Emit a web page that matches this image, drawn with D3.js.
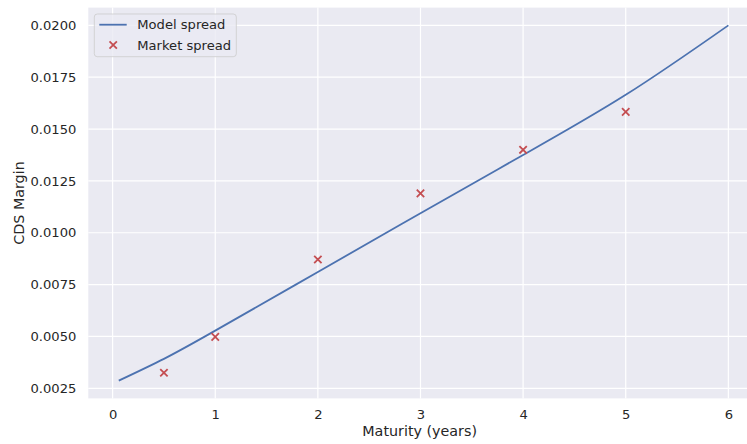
<!DOCTYPE html>
<html>
<head>
<meta charset="utf-8">
<script src="https://cdn.jsdelivr.net/npm/d3@7"></script>
<style>
  html, body { margin: 0; padding: 0; background: #ffffff; }
  svg { display: block; font-family: "DejaVu Sans", sans-serif; }
</style>
</head>
<body>
<svg id="chart" width="747" height="444"></svg>
<script>
// Model CDS spread curve (maturity in years, spread)
const modelMaturity = [0.06, 0.5, 1, 2, 3, 4, 5, 6];
const modelSpread   = [0.00287, 0.00392, 0.00528, 0.00811, 0.01094, 0.01375, 0.01665, 0.0200];

// Observed market spreads
const marketMaturity = [0.5, 1, 2, 3, 4, 5];
const marketSpread   = [0.00325, 0.00498, 0.00871, 0.0119, 0.0140, 0.01583];

// Axis ticks
const xTicks = [0, 1, 2, 3, 4, 5, 6];
const yTicks = [0.0025, 0.0050, 0.0075, 0.0100, 0.0125, 0.0150, 0.0175, 0.0200];

const W = 747, H = 444;
const plot = { left: 88.3, top: 7.6, bottom: 398.4 };

// x domain padded 5% on each side of the data extent
const xMin = d3.min(modelMaturity), xMax = d3.max(modelMaturity);
const xPad = (xMax - xMin) * 0.05;
const yMin = d3.min([...modelSpread, ...marketSpread]), yMax = d3.max([...modelSpread, ...marketSpread]);
const yPad = (yMax - yMin) * 0.05;

const pxPerYear = 102.62;
const x = d3.scaleLinear()
  .domain([xMin - xPad, xMax + xPad])
  .range([plot.left, plot.left + (xMax - xMin + 2 * xPad) * pxPerYear]);
const y = d3.scaleLinear()
  .domain([yMin - yPad, yMax + yPad])
  .range([plot.bottom, plot.top]);

const svg = d3.select("#chart");
const textColor = "#262626";

svg.append("rect")
  .attr("x", plot.left).attr("y", plot.top)
  .attr("width", x.range()[1] - plot.left).attr("height", plot.bottom - plot.top)
  .attr("fill", "#eaeaf2");

// grid
const grid = svg.append("g").attr("stroke", "#ffffff").attr("stroke-width", 1.2);
grid.selectAll("line.gx").data(xTicks).join("line")
  .attr("x1", d => x(d)).attr("x2", d => x(d))
  .attr("y1", plot.top).attr("y2", plot.bottom);
grid.selectAll("line.gy").data(yTicks).join("line")
  .attr("x1", plot.left).attr("x2", x.range()[1])
  .attr("y1", d => y(d)).attr("y2", d => y(d));

// axes (labels only, seaborn darkgrid has no spines or tick marks)
const xAxis = svg.append("g")
  .attr("transform", `translate(0,${plot.bottom})`)
  .call(d3.axisBottom(x).tickValues(xTicks).tickFormat(d3.format("d")).tickSize(0).tickPadding(11));
const yAxis = svg.append("g")
  .attr("transform", `translate(${plot.left},0)`)
  .call(d3.axisLeft(y).tickValues(yTicks).tickFormat(d3.format(".4f")).tickSize(0).tickPadding(12));
[xAxis, yAxis].forEach(g => {
  g.select(".domain").remove();
  g.selectAll("text").attr("fill", textColor).style("font-size", "13.1px")
    .style("font-family", "'DejaVu Sans', sans-serif");
});

// axis titles
svg.append("text")
  .attr("x", (plot.left + W) / 2 + 2).attr("y", 435.5)
  .attr("text-anchor", "middle").attr("fill", textColor)
  .style("font-size", "14.3px").text("Maturity (years)");
svg.append("text")
  .attr("transform", `translate(24,${(plot.top + plot.bottom) / 2}) rotate(-90)`)
  .attr("text-anchor", "middle").attr("fill", textColor)
  .style("font-size", "14.3px").text("CDS Margin");

// model line
const modelData = modelMaturity.map((m, i) => ({ m, s: modelSpread[i] }));
svg.append("path")
  .datum(modelData)
  .attr("fill", "none").attr("stroke", "#4c72b0").attr("stroke-width", 1.8)
  .attr("d", d3.line().x(d => x(d.m)).y(d => y(d.s)).curve(d3.curveNatural));

// market markers
const marketData = marketMaturity.map((m, i) => ({ m, s: marketSpread[i] }));
const r = 3.7;
const crossPath = `M${-r},${-r}L${r},${r}M${-r},${r}L${r},${-r}`;
svg.append("g").selectAll("path").data(marketData).join("path")
  .attr("transform", d => `translate(${x(d.m)},${y(d.s)})`)
  .attr("d", crossPath)
  .attr("stroke", "#c44e52").attr("stroke-width", 1.8).attr("fill", "none");

// legend
const lg = svg.append("g");
lg.append("rect")
  .attr("x", 94.3).attr("y", 14).attr("width", 142).attr("height", 42.7)
  .attr("rx", 3).attr("ry", 3)
  .attr("fill", "#eaeaf2").attr("fill-opacity", 0.8)
  .attr("stroke", "#cccccc").attr("stroke-opacity", 0.8).attr("stroke-width", 1);
lg.append("line")
  .attr("x1", 99.3).attr("x2", 126.7).attr("y1", 24.7).attr("y2", 24.7)
  .attr("stroke", "#4c72b0").attr("stroke-width", 1.8);
lg.append("path")
  .attr("transform", "translate(113.2,45)")
  .attr("d", crossPath)
  .attr("stroke", "#c44e52").attr("stroke-width", 1.8).attr("fill", "none");
lg.selectAll("text").data(["Model spread", "Market spread"]).join("text")
  .attr("x", 137.3).attr("y", (d, i) => 24.7 + i * 20.3)
  .attr("dy", "0.35em").attr("fill", textColor)
  .style("font-size", "13.1px").text(d => d);
</script>
</body>
</html>
